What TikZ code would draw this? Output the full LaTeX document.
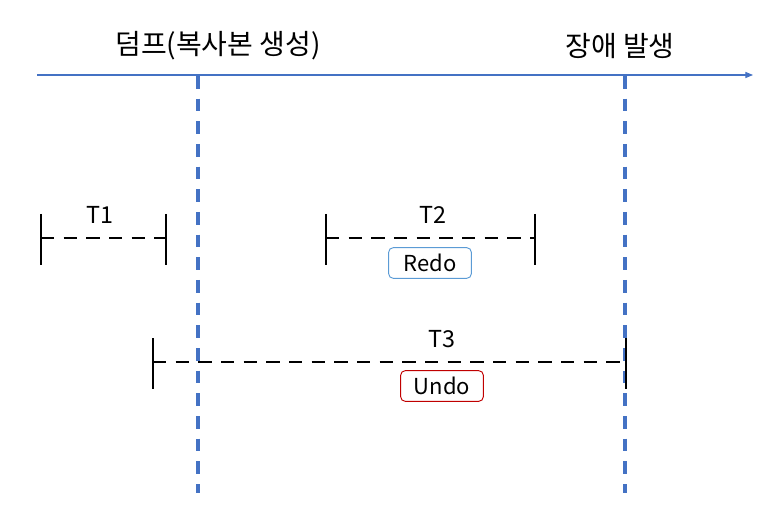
\documentclass[tikz,border=0pt]{standalone}
\usepackage{fontspec}
\setmainfont{Noto Sans CJK KR}
\usetikzlibrary{arrows.meta,positioning}
\definecolor{AxisBlue}{RGB}{68,114,196}
\definecolor{RedoBlue}{RGB}{91,155,213}
\definecolor{UndoRed}{RGB}{192,0,0}
\tikzset{
  axisline/.style={-{Triangle[length=2mm,width=1.6mm]},line width=0.8pt,draw=AxisBlue},
  guideline/.style={draw=AxisBlue,line width=2.4pt,dash pattern=on 9.5pt off 7.5pt},
  spanline/.style={draw=black,line width=1.5pt,dash pattern=on 10pt off 7pt},
  tickline/.style={draw=black,line width=1.5pt},
  toplabel/.style={font=\fontsize{21}{23}\selectfont,inner sep=0pt},
  spanlabel/.style={font=\fontsize{17.5}{19}\selectfont,inner sep=0pt},
  tagbox/.style={rounded corners=1.2mm,line width=0.7pt,minimum width=62pt,
    minimum height=23pt,inner sep=0pt,font=\fontsize{16.5}{18}\selectfont},
  redobox/.style={tagbox,draw=RedoBlue},
  undobox/.style={tagbox,draw=UndoRed},
}
\begin{document}
\begin{tikzpicture}[x=0.75pt,y=-0.75pt]
  \useasboundingbox (0,0) rectangle (771,520);
  \node[toplabel] (dump) at (218,46) {덤프(복사본 생성)};
  \node[toplabel] (fail) at (620,46) {장애 발생};
  \coordinate (axisL) at (37,75);
  \coordinate (axisR) at (753,75);
  \draw[axisline] (axisL) -- (axisR);
  \coordinate (dumpTop) at (198,76);
  \coordinate (dumpBot) at (198,493);
  \coordinate (failTop) at (625,76);
  \coordinate (failBot) at (625,493);
  \draw[guideline] (dumpTop) -- (dumpBot);
  \draw[guideline] (failTop) -- (failBot);
  % transactions: name / start / end / line y / label x
  \foreach \t/\xa/\xb/\yy/\lx in {T1/41/166/238/100,T2/326/535/238/433,T3/153/626/362/442}{
    \coordinate (\t s) at (\xa,\yy);
    \coordinate (\t e) at (\xb,\yy);
    \draw[tickline] (\xa,\yy-24) -- (\xa,\yy+27);
    \draw[tickline] (\xb,\yy-24) -- (\xb,\yy+27);
    \draw[spanline] (\t s) -- (\t e);
    \node[spanlabel] (\t lbl) at (\lx,\yy-23) {\t};
  }
  \node[redobox] (redo) at (430,263) {Redo};
  \node[undobox] (undo) at (442,386) {Undo};
\end{tikzpicture}
\end{document}
